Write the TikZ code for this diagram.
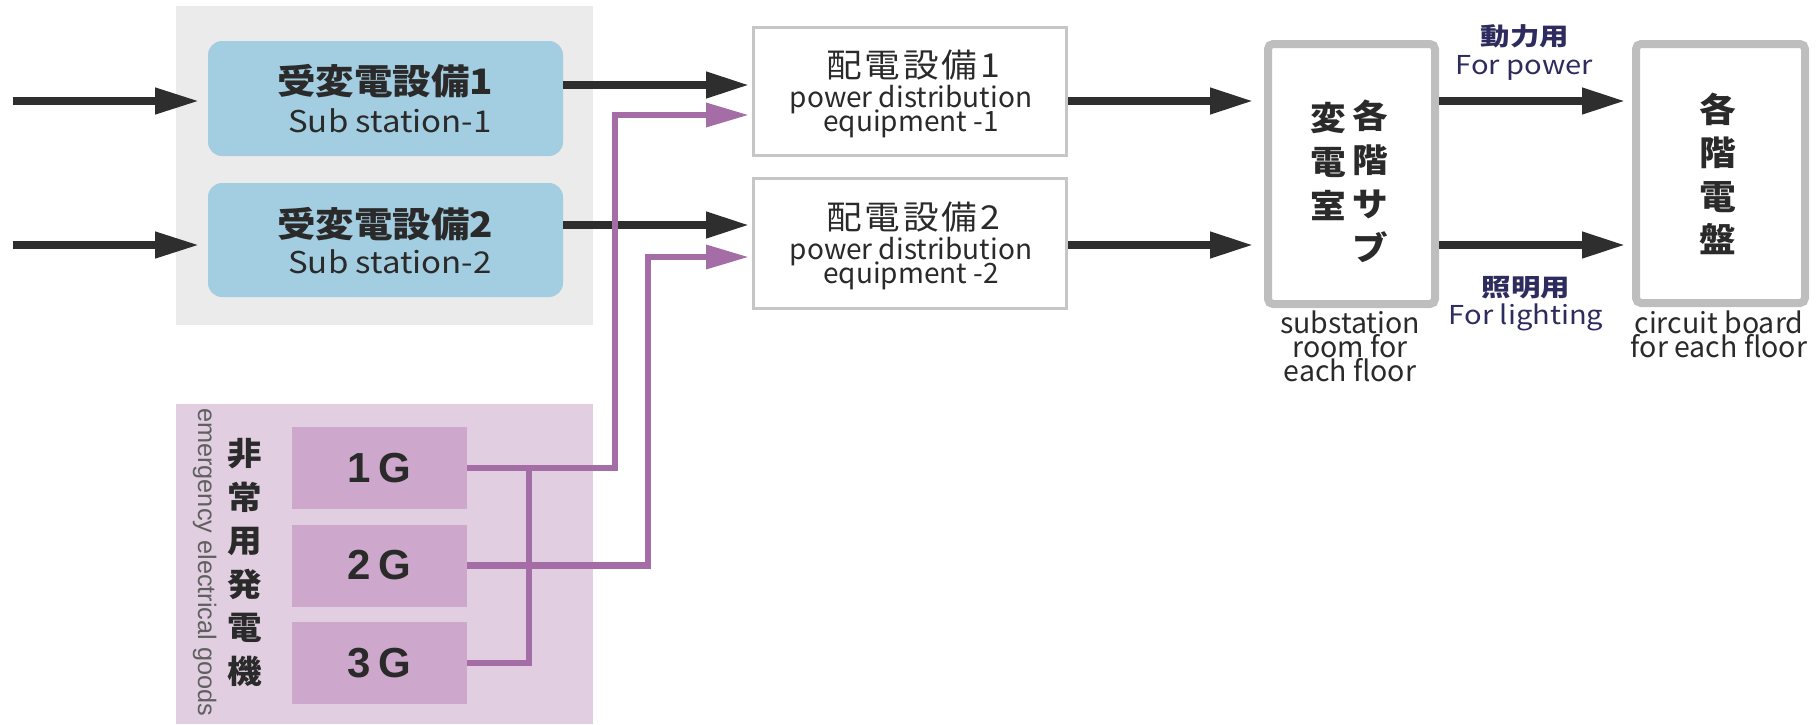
\documentclass[tikz,border=0pt]{standalone}
\usepackage{fontspec}
\setmainfont{Noto Sans CJK JP}
\newfontfamily\jpsp{Noto Sans CJK JP}[LetterSpace=8]
\newfontfamily\helv{Liberation Sans}
\usetikzlibrary{arrows.meta,calc}
\newcommand\mytightlines{\lineskiplimit=-100pt\relax\lineskip=0pt\relax}
\definecolor{arrowc}{HTML}{2E2E2E}
\definecolor{textdark}{HTML}{2A2A2A}
\definecolor{ssblue}{HTML}{A3CDE0}
\definecolor{panelgray}{HTML}{EBEBEB}
\definecolor{emgbg}{HTML}{E1CFE1}
\definecolor{genfill}{HTML}{CDA8CC}
\definecolor{pline}{HTML}{A46DA5}
\definecolor{pdgray}{HTML}{C6C6C6}
\definecolor{subgray}{HTML}{BEBEBE}
\definecolor{navy}{HTML}{2E2C5E}
\begin{document}
\begin{tikzpicture}[x=1pt,y=-1pt,
  panel/.style={inner sep=0pt,outer sep=0pt,draw=none},
  ssbox/.style={panel,fill=ssblue,rounded corners=14pt,minimum width=355pt},
  pdbox/.style={draw=pdgray,line width=3pt,fill=white,minimum width=313pt,inner sep=0pt},
  subbox/.style={draw=subgray,line width=8pt,fill=white,rounded corners=5pt,inner sep=0pt},
  genbox/.style={panel,fill=genfill,minimum width=175pt,minimum height=82pt,text=textdark,
    font=\helv\bfseries\fontsize{42}{42}\selectfont},
  jptitle/.style={inner sep=0pt,text=textdark,xscale=1.1,font=\bfseries\fontsize{35}{35}\selectfont},
  jpthin/.style={inner sep=0pt,text=textdark,xscale=1.08,font=\jpsp\fontsize{33}{33}\selectfont},
  entext/.style={inner sep=0pt,anchor=base,text=textdark,xscale=1.1,font=\fontsize{30}{30}\selectfont},
  pdtext/.style={inner sep=0pt,anchor=base,align=center,text=textdark,
    font=\fontsize{28}{24}\selectfont\mytightlines},
  smalltext/.style={inner sep=0pt,anchor=base,align=center,text=textdark,
    font=\fontsize{28.5}{24}\selectfont\mytightlines},
  navyjp/.style={inner sep=0pt,text=navy,xscale=1.2,font=\bfseries\fontsize{24.5}{24.5}\selectfont},
  navyen/.style={inner sep=0pt,anchor=base,text=navy,xscale=1.12,font=\fontsize{26}{26}\selectfont},
  vtext/.style={inner sep=0pt,align=center,text=textdark,xscale=1.08},
  inarrow/.style={draw=arrowc,line width=7.5pt,-{Triangle[length=44pt,width=25pt]},shorten >=9pt},
  darrow/.style={draw=arrowc,line width=7.5pt,-{Triangle[length=43pt,width=25pt]}},
  parrow/.style={draw=pline,line width=6.5pt,-{Triangle[length=43pt,width=23pt]},shorten >=3pt},
  pbus/.style={draw=pline,line width=6.5pt}
]
\useasboundingbox (0,0) rectangle (1818,724);

% panels
\node[panel,fill=panelgray,minimum width=417pt,minimum height=319pt] (subpanel) at (384.5,165.5) {};
\node[panel,fill=emgbg,minimum width=417pt,minimum height=320pt] (emg) at (384.5,564) {};

% substations
\node[ssbox,minimum height=115pt] (ss1) at (385.5,98.5) {};
\node[ssbox,minimum height=114pt] (ss2) at (385.5,240) {};
\node[jptitle] (ss1j) at (385,81) {受変電設備1};
\node[entext] (ss1e) at (390,132) {Sub station-1};
\node[jptitle] (ss2j) at (385,224) {受変電設備2};
\node[entext] (ss2e) at (390,273) {Sub station-2};

% distribution equipment
\node[pdbox,minimum height=128pt] (pd1) at (910,91.5) {};
\node[pdbox,minimum height=130pt] (pd2) at (910,243.5) {};
\node[jpthin] (pd1j) at (913,65) {配電設備1};
\node[pdtext] (pd1a) at (911,131) {power distribution\\equipment -1};
\node[jpthin] (pd2j) at (913,217) {配電設備2};
\node[pdtext] (pd2a) at (911,283) {power distribution\\equipment -2};

% substation room and circuit board
\node[subbox,minimum width=167pt,minimum height=260pt] (sub) at (1351.5,174) {};
\node[subbox,minimum width=169pt,minimum height=259pt] (circ) at (1720.5,173.5) {};
\node[vtext,font=\bfseries\fontsize{33}{44}\selectfont] (subR) at (1370,181.5) {各\\階\\サ\\ブ};
\node[vtext,font=\bfseries\fontsize{33}{44}\selectfont] (subL) at (1328,162) {変\\電\\室};
\node[vtext,font=\bfseries\fontsize{34}{43.5}\selectfont] (circj) at (1718,174) {各\\階\\電\\盤};
\node[smalltext] (sr) at (1350,381) {substation\\room for\\each floor};
\node[smalltext] (cb) at (1719,357) {circuit board\\for each floor};
\node[navyjp] (powj) at (1525,36) {動力用};
\node[navyen] (powe) at (1524,74) {For power};
\node[navyjp] (ligj) at (1526,288) {照明用};
\node[navyen] (lige) at (1526,324) {For lighting};

% emergency generators
\node[genbox] (g1) at (379.5,468) {1\hspace{7pt}G};
\node[genbox] (g2) at (379.5,565.5) {2\hspace{7pt}G};
\node[genbox] (g3) at (379.5,663) {3\hspace{7pt}G};
\node[vtext,font=\bfseries\fontsize{32}{43.5}\selectfont] (emgj) at (245,562.5) {非\\常\\用\\発\\電\\機};
\node[inner sep=0pt,rotate=-90,anchor=base west,text=textdark!75,font=\helv\fontsize{25.3}{25.3}\selectfont] (emge) at (198,408) {emergency electrical goods};

% row levels
\coordinate (in1) at (13,101);
\coordinate (in2) at (13,245);
\coordinate (rA) at (0,85);
\coordinate (rB) at (0,225);
\coordinate (r1) at (0,101);
\coordinate (r2) at (0,245);
\coordinate (p1) at (615,115);
\coordinate (p2) at (648,257);
\coordinate (bus) at (529,468);

% black arrows
\draw[inarrow] (in1) -- (ss1.west |- in1);
\draw[inarrow] (in2) -- (ss2.west |- in2);
\draw[darrow,shorten >=3pt] (ss1.east |- rA) -- (pd1.west |- rA);
\draw[darrow,shorten >=3pt] (ss2.east |- rB) -- (pd2.west |- rB);
\draw[darrow,shorten >=11pt] (pd1.east |- r1) -- (sub.west |- r1);
\draw[darrow,shorten >=11pt] (pd2.east |- r2) -- (sub.west |- r2);
\draw[darrow,shorten >=7pt] (sub.east |- r1) -- (circ.west |- r1);
\draw[darrow,shorten >=7pt] (sub.east |- r2) -- (circ.west |- r2);

% purple lines
\draw[pbus] (g3.east) -| (bus);
\draw[parrow] (g1.east) -| (p1) -- (pd1.west |- p1);
\draw[parrow] (g2.east) -| (p2) -- (pd2.west |- p2);
\end{tikzpicture}
\end{document}
